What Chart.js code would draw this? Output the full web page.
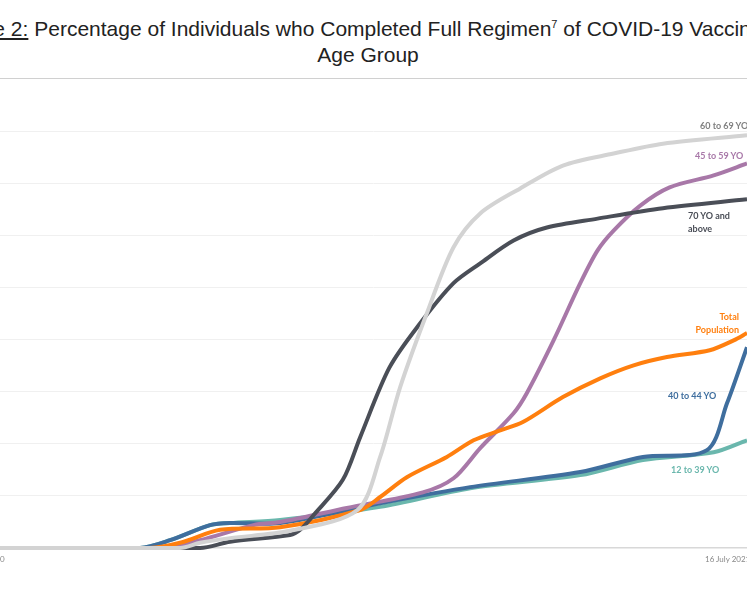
<!DOCTYPE html>
<html><head><meta charset="utf-8">
<script src="https://cdn.jsdelivr.net/npm/chart.js@4"></script>
<style>
body{margin:0;width:747px;height:598px;overflow:hidden;background:#fff;position:relative;font-family:"Liberation Sans",Arial,sans-serif}
.t{position:absolute;left:-632px;width:2000px;text-align:center;font-size:21px;color:#222;white-space:nowrap}
.l{position:absolute;font-family:Lato,sans-serif;font-weight:bold;font-size:9px;white-space:nowrap;line-height:13px}
#wrap{position:absolute;left:0;top:100px;width:747px;height:460px}
</style></head><body>
<div class="t" style="top:17px"><u>Figure 2:</u> Percentage of Individuals who Completed Full Regimen<sup style="font-size:11px">7</sup> of COVID-19 Vaccine by</div>
<div class="t" style="top:43px">Age Group</div>
<div style="position:absolute;left:0;top:78px;width:747px;height:1px;background:#d0d0d0"></div>
<div id="wrap"><canvas id="c"></canvas></div>
<div class="l" style="left:-14px;top:553px;color:#888;font-weight:normal;font-size:8px">2020</div>
<div class="l" style="left:705px;top:553px;color:#888;font-weight:normal;font-size:8px">16 July 2021</div>
<div class="l" style="left:700px;top:119px;color:#808080">60 to 69 YO</div>
<div class="l" style="left:695px;top:149px;color:#a878a8">45 to 59 YO</div>
<div class="l" style="left:688px;top:209px;color:#4a4e57">70 YO and<br>above</div>
<div class="l" style="left:680px;top:310px;width:59px;text-align:right;color:#ff7f0e">Total<br>Population</div>
<div class="l" style="left:668px;top:389px;color:#3f6e9e">40 to 44 YO</div>
<div class="l" style="left:671px;top:463px;color:#6ab7ad">12 to 39 YO</div>
<script>
const teal=[[0,0],[105,0],[127.5,1.5],[157.5,4.4],[172.5,4.8],[210,5.4],[285,7.9],[352.5,11.5],[435,14.0],[482,16.9],[535,18.4],[560,20.7]];
const blue=[[0,0],[105,0],[127.5,1.5],[157.5,4.4],[172.5,4.8],[210,4.8],[285,8.6],[352.5,11.7],[435,14.6],[482,17.5],[530,18.8],[545,27.8],[560,38.6]];
const total=[[0,0],[112,0],[135,1.0],[165,3.5],[210,4.0],[270,7.3],[285,9.8],[305,13.6],[335,17.5],[355,20.7],[375,22.6],[392,24.2],[422,29.0],[450,32.6],[475,35.1],[500,36.7],[532,38.0],[550,39.9],[560,41.3]];
const age70=[[0,0],[150,0],[172.5,1.2],[217.5,2.5],[225,3.5],[235,6.3],[257,13.1],[270,21.3],[292,34.7],[315,43.2],[340,50.9],[360,54.7],[385,59.1],[410,61.6],[448,63.3],[497,65.3],[560,67.0]];
const age60=[[0,0],[135,0],[150,1.0],[172.5,1.9],[217.5,3.3],[268,7.3],[285,17.5],[300,30.9],[320,45.1],[340,57.8],[360,64.3],[390,69.1],[422,73.5],[460,75.8],[497,77.7],[560,79.3]];
const age45=[[0,0],[120,0],[150,1.5],[190,4.4],[210,5.0],[260,7.7],[317,10.7],[340,13.4],[360,19.2],[385,25.9],[395,29.8],[415,39.9],[435,50.9],[448,57.2],[460,61.0],[480,65.8],[502,69.3],[535,71.6],[560,73.9]];
const pts=a=>a.map(p=>({x:p[0],y:p[1]}));
const ds=(d,c)=>({data:pts(d),borderColor:c,borderWidth:4,pointRadius:0,tension:0.3,clip:false,fill:false});
new Chart(document.getElementById('c'),{type:'line',
data:{datasets:[ds(age60,'#d3d3d3'),ds(age70,'#4a4e57'),ds(total,'#ff7f0e'),ds(age45,'#a878a8'),ds(blue,'#3f6e9e'),ds(teal,'#6ab7ad')]},
options:{responsive:true,maintainAspectRatio:false,animation:false,
layout:{padding:{top:31.7,bottom:12,left:0,right:0}},
plugins:{legend:{display:false},tooltip:{enabled:false}},
scales:{x:{type:'linear',min:0,max:560,display:false},
y:{min:0,max:80,ticks:{display:false,stepSize:10},border:{display:false},
grid:{drawTicks:false,color:c=>c.tick.value===0?'#d8d8d8':'#f0f0f0',lineWidth:c=>c.tick.value===0?1.5:1}}}}});
</script></body></html>
